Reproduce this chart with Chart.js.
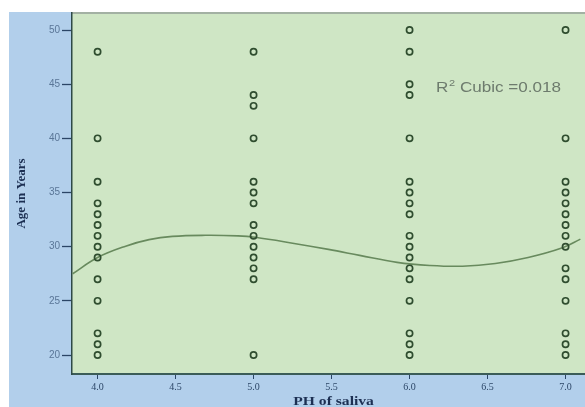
<!DOCTYPE html>
<html>
<head>
<meta charset="utf-8">
<script src="https://cdn.jsdelivr.net/npm/chart.js@4/dist/chart.umd.min.js"></script>
<style>
  html, body { margin: 0; padding: 0; background: #ffffff; overflow: hidden; }
  #wrap { width: 585px; height: 407px; overflow: hidden; position: relative; }
  canvas { display: block; }
</style>
</head>
<body>
<div id="wrap"><canvas id="c" width="600" height="412"></canvas></div>
<script>
// Saliva pH groups and the ages recorded in each group
const phGroups = [4.0, 5.0, 6.0, 7.0];
const agesPh4 = [48, 40, 36, 34, 33, 32, 31, 30, 29, 27, 25, 22, 21, 20];
const agesPh5 = [48, 44, 43, 40, 36, 35, 34, 32, 31, 30, 29, 28, 27, 20];
const agesPh6 = [50, 48, 45, 44, 40, 36, 35, 34, 33, 31, 30, 29, 28, 27, 25, 22, 21, 20];
const agesPh7 = [50, 40, 36, 35, 34, 33, 32, 31, 30, 28, 27, 25, 22, 21, 20];

// Cubic fit line (pH, age)
const fitPh  = [3.84, 4.00, 4.18, 4.33, 4.48, 4.69, 4.90, 5.01, 5.26, 5.48, 5.68, 5.92, 6.13, 6.34, 6.55, 6.76, 6.98, 7.095];
const fitAge = [27.5, 29.0, 30.05, 30.65, 30.95, 31.05, 31.0, 30.87, 30.3, 29.75, 29.2, 28.55, 28.27, 28.2, 28.45, 29.0, 29.9, 30.7];

// Axis ticks
const xTicks = [4.0, 4.5, 5.0, 5.5, 6.0, 6.5, 7.0];
const yTicks = [20, 25, 30, 35, 40, 45, 50];

const xTitle = 'PH of saliva';
const yTitle = 'Age in Years';
const fitLabel = { base: 'R', sup: '2', rest: ' Cubic =0.018', ph: 6.17, age: 44.6 };

const groups = [agesPh4, agesPh5, agesPh6, agesPh7];
const scatterPoints = [];
groups.forEach((ages, i) => ages.forEach(a => scatterPoints.push({ x: phGroups[i], y: a })));
const fitPoints = fitPh.map((p, i) => ({ x: p, y: fitAge[i] }));

const panelPlugin = {
  id: 'panelBackground',
  beforeDraw(chart) {
    const { ctx, chartArea: a } = chart;
    ctx.save();
    ctx.fillStyle = '#ffffff';
    ctx.fillRect(0, 0, chart.width, chart.height);
    ctx.fillStyle = '#b2cfeb';
    ctx.fillRect(9, a.top - 1, chart.width - 9, chart.height - a.top + 1);
    ctx.fillStyle = '#cfe6c5';
    ctx.fillRect(a.left, a.top, a.right - a.left, a.bottom - a.top);
    ctx.strokeStyle = '#a3b1a3';
    ctx.lineWidth = 2;
    ctx.beginPath();
    ctx.moveTo(a.left, a.top);
    ctx.lineTo(a.right, a.top);
    ctx.stroke();
    ctx.restore();
  },
  afterDraw(chart) {
    const { ctx, scales, chartArea: a } = chart;

    // R² annotation, drawn slightly widened like the rest of the panel text
    const px = scales.x.getPixelForValue(fitLabel.ph);
    const py = scales.y.getPixelForValue(fitLabel.age);
    const sx = 1.22;
    ctx.save();
    ctx.translate(px, py);
    ctx.scale(sx, 1);
    ctx.fillStyle = '#6d7b6d';
    ctx.textBaseline = 'middle';
    ctx.font = '14px "Liberation Sans", Arial, sans-serif';
    ctx.fillText(fitLabel.base, 0, 0);
    const w1 = ctx.measureText(fitLabel.base).width;
    ctx.font = '9px "Liberation Sans", Arial, sans-serif';
    ctx.fillText(fitLabel.sup, w1 + 0.5, -5);
    const w2 = ctx.measureText(fitLabel.sup).width;
    ctx.font = '14px "Liberation Sans", Arial, sans-serif';
    ctx.fillText(fitLabel.rest, w1 + w2 + 0.5, 0);
    ctx.restore();

    // x axis title, widened
    ctx.save();
    ctx.translate((a.left + a.right) / 2, 402);
    ctx.scale(1.3, 1);
    ctx.fillStyle = '#1c2f52';
    ctx.textAlign = 'center';
    ctx.textBaseline = 'middle';
    ctx.font = 'bold 12px "Liberation Serif", "Times New Roman", serif';
    ctx.fillText(xTitle, 0, 0);
    ctx.restore();
  }
};

new Chart(document.getElementById('c'), {
  type: 'scatter',
  data: {
    datasets: [
      {
        data: scatterPoints,
        pointStyle: 'circle',
        pointRadius: 3.1,
        pointBorderWidth: 1.7,
        pointBorderColor: '#2f4d2f',
        pointBackgroundColor: 'rgba(0,0,0,0)',
        pointHoverRadius: 3.1
      },
      {
        data: fitPoints,
        showLine: true,
        tension: 0.4,
        borderColor: '#688a5e',
        borderWidth: 1.6,
        pointRadius: 0,
        fill: false
      }
    ]
  },
  options: {
    responsive: false,
    devicePixelRatio: 1,
    animation: false,
    layout: { padding: { top: 13, left: 0, right: 0, bottom: 0 } },
    plugins: { legend: { display: false }, tooltip: { enabled: false } },
    scales: {
      x: {
        type: 'linear',
        min: 3.836,
        max: 7.19,
        afterFit(scale) { scale.height = 38; },
        afterBuildTicks(scale) { scale.ticks = xTicks.map(v => ({ value: v })); },
        grid: { drawOnChartArea: false, tickLength: 5, color: '#2b4566', tickWidth: 1 },
        border: { display: true, color: '#3b5c57', width: 2 },
        ticks: {
          padding: 2,
          autoSkip: false,
          maxRotation: 0,
          color: '#2d4768',
          font: { family: '"Liberation Serif", "Times New Roman", serif', size: 10 },
          callback: v => Number(v).toFixed(1)
        },
        title: { display: false }
      },
      y: {
        type: 'linear',
        min: 18.25,
        max: 51.57,
        afterFit(scale) { scale.width = 72; },
        afterBuildTicks(scale) { scale.ticks = yTicks.map(v => ({ value: v })); },
        grid: { drawOnChartArea: false, tickLength: 10, color: '#2b4566', tickWidth: 1.3 },
        border: { display: true, color: '#2e4947', width: 1.5 },
        ticks: {
          padding: 2,
          color: '#5a7697',
          font: { family: '"Liberation Sans", Arial, sans-serif', size: 10 }
        },
        title: {
          display: true,
          text: yTitle,
          color: '#1c2f52',
          font: { family: '"Liberation Serif", "Times New Roman", serif', size: 13, weight: 'bold' },
          padding: { top: 14, bottom: 0 }
        }
      }
    }
  },
  plugins: [panelPlugin]
});
</script>
</body>
</html>
